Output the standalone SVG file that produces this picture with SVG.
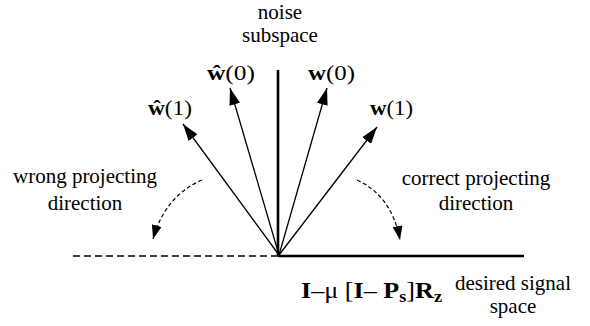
<svg xmlns="http://www.w3.org/2000/svg" width="590" height="326" viewBox="0 0 590 326">
<defs>
<marker id="ah" viewBox="0 0 17 11" refX="17" refY="5.5" markerWidth="17" markerHeight="11" markerUnits="userSpaceOnUse" orient="auto">
<path d="M0,0 L17,5.5 L0,11 Z" fill="#000"/>
</marker>
<marker id="ahs" viewBox="0 0 14 10" refX="14" refY="5" markerWidth="14" markerHeight="10" markerUnits="userSpaceOnUse" orient="auto">
<path d="M0,0 L14,5 L0,10 Z" fill="#000"/>
</marker>
</defs>
<style>
text{font-family:"Liberation Serif","Times New Roman",serif;fill:#000}
.lbl{font-size:21px}
.vec{font-size:22px}
.b{font-weight:bold}
.arr{stroke:#000;stroke-width:1.3;fill:none;marker-end:url(#ah)}
.dar{stroke:#000;stroke-width:1.2;fill:none;stroke-dasharray:4 2.5;marker-end:url(#ahs)}
</style>
<rect width="590" height="326" fill="#fff"/>
<g id="connectors">
<line x1="278" y1="70" x2="278" y2="256" stroke="#000" stroke-width="2.6"/>
<line x1="278" y1="256" x2="524" y2="256" stroke="#000" stroke-width="2.6"/>
<line x1="73" y1="256" x2="278" y2="256" stroke="#000" stroke-width="1.4" stroke-dasharray="7 4"/>
<line class="arr" x1="279" y1="255" x2="183" y2="124"/>
<line class="arr" x1="279" y1="255" x2="230" y2="88"/>
<line class="arr" x1="279" y1="255" x2="327" y2="88"/>
<line class="arr" x1="279" y1="255" x2="377" y2="127"/>
<path class="dar" d="M202,180 Q165,196 153,239"/>
<path class="dar" d="M357,180 Q392,196 400,240"/>
</g>
<g id="noise-subspace">
<text class="lbl" x="280" y="19" text-anchor="middle">noise</text>
<text class="lbl" x="280" y="42" text-anchor="middle">subspace</text>
</g>
<g id="what0"><text class="vec" x="207" y="80" textLength="48" lengthAdjust="spacingAndGlyphs"><tspan class="b">ŵ</tspan>(0)</text></g>
<g id="what1"><text class="vec" x="148" y="115" textLength="44" lengthAdjust="spacingAndGlyphs"><tspan class="b">ŵ</tspan>(1)</text></g>
<g id="w0"><text class="vec" x="308" y="80" textLength="47" lengthAdjust="spacingAndGlyphs"><tspan class="b">w</tspan>(0)</text></g>
<g id="w1"><text class="vec" x="370" y="115" textLength="43" lengthAdjust="spacingAndGlyphs"><tspan class="b">w</tspan>(1)</text></g>
<g id="wrong">
<text class="lbl" x="85" y="183" text-anchor="middle">wrong projecting</text>
<text class="lbl" x="85" y="210" text-anchor="middle">direction</text>
</g>
<g id="correct">
<text class="lbl" x="476" y="185" text-anchor="middle">correct projecting</text>
<text class="lbl" x="476" y="210" text-anchor="middle">direction</text>
</g>
<g id="formula">
<text x="301" y="298" font-size="23" textLength="141" lengthAdjust="spacingAndGlyphs"><tspan font-weight="bold">I</tspan>–μ [<tspan font-weight="bold">I</tspan>– <tspan font-weight="bold">P</tspan><tspan font-weight="bold" font-size="16" dy="4">s</tspan><tspan dy="-4">]</tspan><tspan font-weight="bold">R</tspan><tspan font-weight="bold" font-size="16" dy="4">z</tspan></text>
</g>
<g id="desired">
<text class="lbl" x="513" y="290" text-anchor="middle">desired signal</text>
<text class="lbl" x="513" y="313" text-anchor="middle">space</text>
</g>
</svg>
